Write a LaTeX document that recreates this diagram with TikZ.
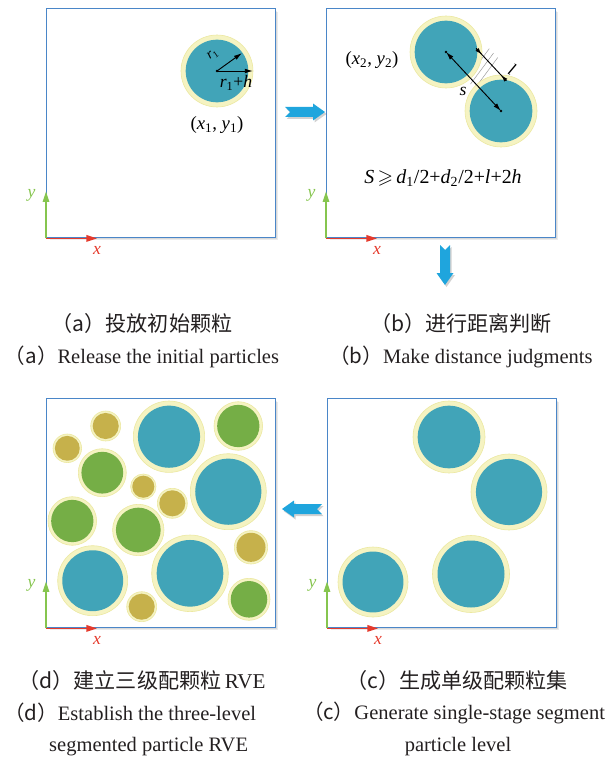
\documentclass[tikz,border=0pt]{standalone}
\usepackage{fontspec}
\setmainfont{Liberation Serif}
\newfontfamily\cjk{Noto Sans CJK SC}
\usepackage{amssymb}
\usetikzlibrary{arrows.meta,calc}
\definecolor{frameblue}{HTML}{4A86C8}
\definecolor{pteal}{HTML}{41A4B8}
\definecolor{pgreen}{HTML}{75AE46}
\definecolor{polive}{HTML}{C6B14B}
\definecolor{rim}{HTML}{F5F3C2}
\definecolor{rimedge}{HTML}{ECE8A0}
\definecolor{axred}{HTML}{E53A2C}
\definecolor{axgreen}{HTML}{86C54F}
\definecolor{arrowblue}{HTML}{1FA5DD}
\definecolor{textgray}{HTML}{231F20}

\tikzset{
  panel/.style={draw=frameblue, fill=white, line width=1.2pt, minimum width=6.87cm,
    minimum height=6.87cm, inner sep=0pt, anchor=north west},
  axisx/.style={draw=axred, line width=1.4pt, -{Triangle[length=9pt,width=5.5pt]}},
  axisy/.style={draw=axgreen, line width=1.4pt, -{Triangle[length=9pt,width=5.5pt]}},
  xlab/.style={text=axred, font=\fontsize{15}{15}\selectfont\itshape, yshift=-10pt},
  ylab/.style={text=axgreen, font=\fontsize{15}{15}\selectfont\itshape, anchor=east, xshift=-5pt, yshift=-3pt},
  lab/.style={text=black, inner sep=0pt, font=\fontsize{16}{16}\selectfont},
  captext/.style={text=textgray, inner sep=0pt, font=\fontsize{18}{22}\selectfont},
  capen/.style={captext, font=\fontsize{17.5}{22}\selectfont},
  radarrow/.style={black, line width=0.8pt, -{Latex[length=7pt,width=4pt]}},
  sarrow/.style={black, line width=0.8pt, {Latex[length=7pt,width=4pt]}-{Latex[length=7pt,width=4pt]}},
  dimline/.style={black, line width=0.8pt},
  dimarrow/.style={black, line width=0.8pt, -{Latex[length=6pt,width=3.5pt]}},
  hatch/.style={black!40, line width=0.4pt},
}

% particle: x, y, outer radius, core colour
\newcommand{\particle}[4]{%
  \fill[rim, draw=rimedge, line width=0.5pt] (#1,#2) circle[radius=#3];
  \fill[#4] (#1,#2) circle[radius=0.87*#3];}

% fat arrow: tail x, tail y, angle
\newcommand{\fatarrow}[3]{%
  \fill[black, opacity=0.18, shift={(#1+1.5,#2+2)}, rotate=#3]
    (0,-5) -- (28,-5) -- (28,-8.5) -- (40,0) -- (28,8.5) -- (28,5) -- (0,5) -- (5,0) -- cycle;
  \fill[arrowblue, shift={(#1,#2)}, rotate=#3]
    (0,-5) -- (28,-5) -- (28,-8.5) -- (40,0) -- (28,8.5) -- (28,5) -- (0,5) -- (5,0) -- cycle;}

\begin{document}
\begin{tikzpicture}[x=0.03cm, y=-0.03cm]
  \useasboundingbox (0,0) rectangle (609,762);

  % Frames with soft shadow
  \foreach \n/\px/\py in {pa/46/8, pb/326/8, pc/327/398, pd/46/398}{
    \foreach \o in {1,2,3}
      \fill[black, opacity=0.08] (\px+\o+1,\py+\o+1) rectangle (\px+229+\o,\py+229+\o);
    \node[panel] (\n) at (\px,\py) {};
  }

  % (a) initial particle
  \particle{217}{71}{36}{pteal}
  \coordinate (ca) at (217,71);
  \coordinate (ra) at (242,53);
  \coordinate (rh) at (253,71);
  \fill (ca) circle[radius=1.3];
  \draw[radarrow] (ca) -- (ra);
  \draw[radarrow] (ca) -- (rh);
  \node[lab, font=\fontsize{12}{12}\selectfont, rotate=36] (rone) at (213,55) {\textit{r}\textsubscript{1}};
  \node[lab, font=\fontsize{15}{15}\selectfont] (ronh) at (236,83) {\textit{r}\textsubscript{1}+\textit{h}};
  \node[lab] (xyone) at (217,125) {(\textit{x}\textsubscript{1}, \textit{y}\textsubscript{1})};

  % (b) distance check
  \foreach \ax/\ay/\bx/\by in {489.3/48.6/466.3/79.6, 493.5/53.1/470.5/84.1,
                              497.7/57.6/474.7/88.6}
    \draw[hatch] (\ax,\ay) -- (\bx,\by);
  \particle{446}{52}{36}{pteal}
  \particle{501}{111}{36}{pteal}
  \coordinate (cbone) at (446,52);
  \coordinate (cbtwo) at (501,111);
  \fill (cbone) circle[radius=1.3];
  \fill (cbtwo) circle[radius=1.3];
  \draw[sarrow] (cbone) -- (cbtwo);
  \coordinate (la) at (476.2,48.5);
  \coordinate (lb) at (506.2,80.6);
  \coordinate (lta) at (481.9,54.6);
  \coordinate (ltb) at (501,75);
  \draw[dimline] (la) -- (lb);
  \draw[dimarrow] (la) -- (lta);
  \draw[dimarrow] (lb) -- (ltb);
  \node[lab, font=\fontsize{15}{15}\selectfont, rotate=-30] (llab) at (512,69) {\textit{l}};
  \node[lab, font=\fontsize{15}{15}\selectfont] (slab) at (463,91) {\textit{s}};
  \node[lab] (xytwo) at (372,60) {(\textit{x}\textsubscript{2}, \textit{y}\textsubscript{2})};
  \node[lab, font=\fontsize{17}{17}\selectfont] (ineq) at (443,178)
    {\textit{S}\,$\geqslant$\,\textit{d}\textsubscript{1}/2+\textit{d}\textsubscript{2}/2+\textit{l}+2\textit{h}};

  % (c) single-grade set
  \particle{449}{437}{36}{pteal}
  \particle{509}{492}{38}{pteal}
  \particle{471}{574}{38.5}{pteal}
  \particle{373}{582}{35}{pteal}

  % (d) three-grade RVE
  \particle{105.7}{426}{15}{polive}
  \particle{67.3}{448.3}{14.3}{polive}
  \particle{169}{436.7}{35.7}{pteal}
  \particle{238.3}{426}{24.3}{pgreen}
  \particle{102.3}{472.7}{24}{pgreen}
  \particle{143.3}{486.7}{12.7}{polive}
  \particle{172.3}{503.3}{15}{polive}
  \particle{228.3}{491.7}{38}{pteal}
  \particle{72.3}{521}{24.3}{pgreen}
  \particle{138.3}{530}{25.7}{pgreen}
  \particle{251}{547.3}{16.7}{polive}
  \particle{92.7}{580.7}{35}{pteal}
  \particle{190}{573.3}{38.3}{pteal}
  \particle{141.7}{606.7}{15}{polive}
  \particle{249}{599.3}{21}{pgreen}

  % Axes
  \foreach \n in {pa,pb,pc,pd}{
    \draw[axisy] (\n.south west) -- ++(0,-47) node[ylab] (y\n) {y};
    \draw[axisx] (\n.south west) -- ++(51,0) node[xlab] (x\n) {x};
  }

  % Step arrows
  \fatarrow{285}{112}{0}
  \fatarrow{445}{245}{-90}
  \fatarrow{322}{509}{180}

  % Captions
  \node[captext] (capa) at (142,323) {\cjk （a）投放初始颗粒};
  \node[capen] (capaen) at (142,357) {{\cjk （a）}Release the initial particles};
  \node[captext] (capb) at (461,323) {\cjk （b）进行距离判断};
  \node[capen] (capben) at (461,357) {{\cjk （b）}Make distance judgments};
  \node[captext] (capd) at (142,680) {{\cjk （d）建立三级配颗粒}\,RVE};
  \node[capen, anchor=west] (capden) at (4,713) {{\cjk （d）}Establish the three-level};
  \node[capen, anchor=west] (capdenb) at (49,747) {segmented particle RVE};
  \node[captext] (capc) at (457,680) {\cjk （c）生成单级配颗粒集};
  \node[capen] (capcen) at (454,713) {{\cjk （c）}Generate single-stage segment};
  \node[capen] (capcenb) at (458,747) {particle level};
\end{tikzpicture}
\end{document}
